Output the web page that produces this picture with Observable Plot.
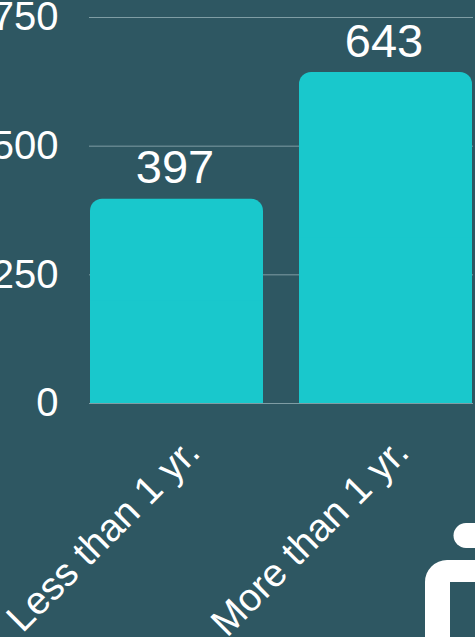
<!DOCTYPE html>
<html>
<head>
<meta charset="utf-8">
<script src="https://cdn.jsdelivr.net/npm/d3@7"></script>
<script src="https://cdn.jsdelivr.net/npm/@observablehq/plot@0.6"></script>
<style>
  html, body { margin: 0; padding: 0; background: #2e5762; overflow: hidden; }
  #wrap { position: relative; width: 475px; height: 637px; }
  #logo { position: absolute; left: 0; top: 0; pointer-events: none; }
</style>
</head>
<body>
<div id="wrap"></div>
<script>
const categories = ["Less than 1 yr.", "More than 1 yr."];
const values = [397, 643];
const yTicks = [0, 250, 500, 750];

const data = categories.map((c, i) => ({category: c, value: values[i]}));

const BG = "#2e5762";
const BAR = "#19c8cc";
const FONT = "'Liberation Sans', Arial, sans-serif";

const chart = Plot.plot({
  width: 475,
  height: 637,
  marginLeft: 89,
  marginRight: 2,
  marginTop: 17,
  marginBottom: 234,
  style: {background: BG, color: "white", fontFamily: FONT, overflow: "visible"},
  x: {domain: categories, paddingInner: 0.171, paddingOuter: 0, label: null},
  y: {domain: [0, 750], label: null},
  marks: [
    Plot.ruleY(yTicks, {stroke: "#7f9da4", strokeWidth: 1}),
    Plot.barY(data, {x: "category", y: "value", fill: BAR, rx: 12}),
    Plot.barY(data, {x: "category", y1: 0, y2: d => d.value / 2, fill: BAR}),
    Plot.text(data, {x: "category", y: "value", text: d => String(d.value), fill: "white",
      fontSize: 47, dy: -16, dx: -2, lineAnchor: "bottom", fontFamily: FONT}),
    Plot.axisY(yTicks, {tickSize: 0, tickPadding: 31, fontSize: 40, fill: "white", fontFamily: FONT, label: null}),
    Plot.axisX({tickSize: 0, tickRotate: -45, tickPadding: 42, fontSize: 39, fill: "white", fontFamily: FONT, dx: 16, label: null})
  ]
});

const wrap = document.getElementById("wrap");
wrap.appendChild(chart);

// decorative logo in bottom-right corner
const ns = "http://www.w3.org/2000/svg";
const logo = document.createElementNS(ns, "svg");
logo.setAttribute("id", "logo");
logo.setAttribute("width", 475);
logo.setAttribute("height", 637);
logo.innerHTML = `
  <path d="M466,523 L480,523 L480,548 L466,548 A12.5,12.5 0 0 1 466,523 Z" fill="white"/>
  <path d="M425,640 L425,582 A22,22 0 0 1 447,560 L480,560 L480,582 L450,582 L450,640 Z" fill="white"/>
`;
wrap.appendChild(logo);
</script>
</body>
</html>
